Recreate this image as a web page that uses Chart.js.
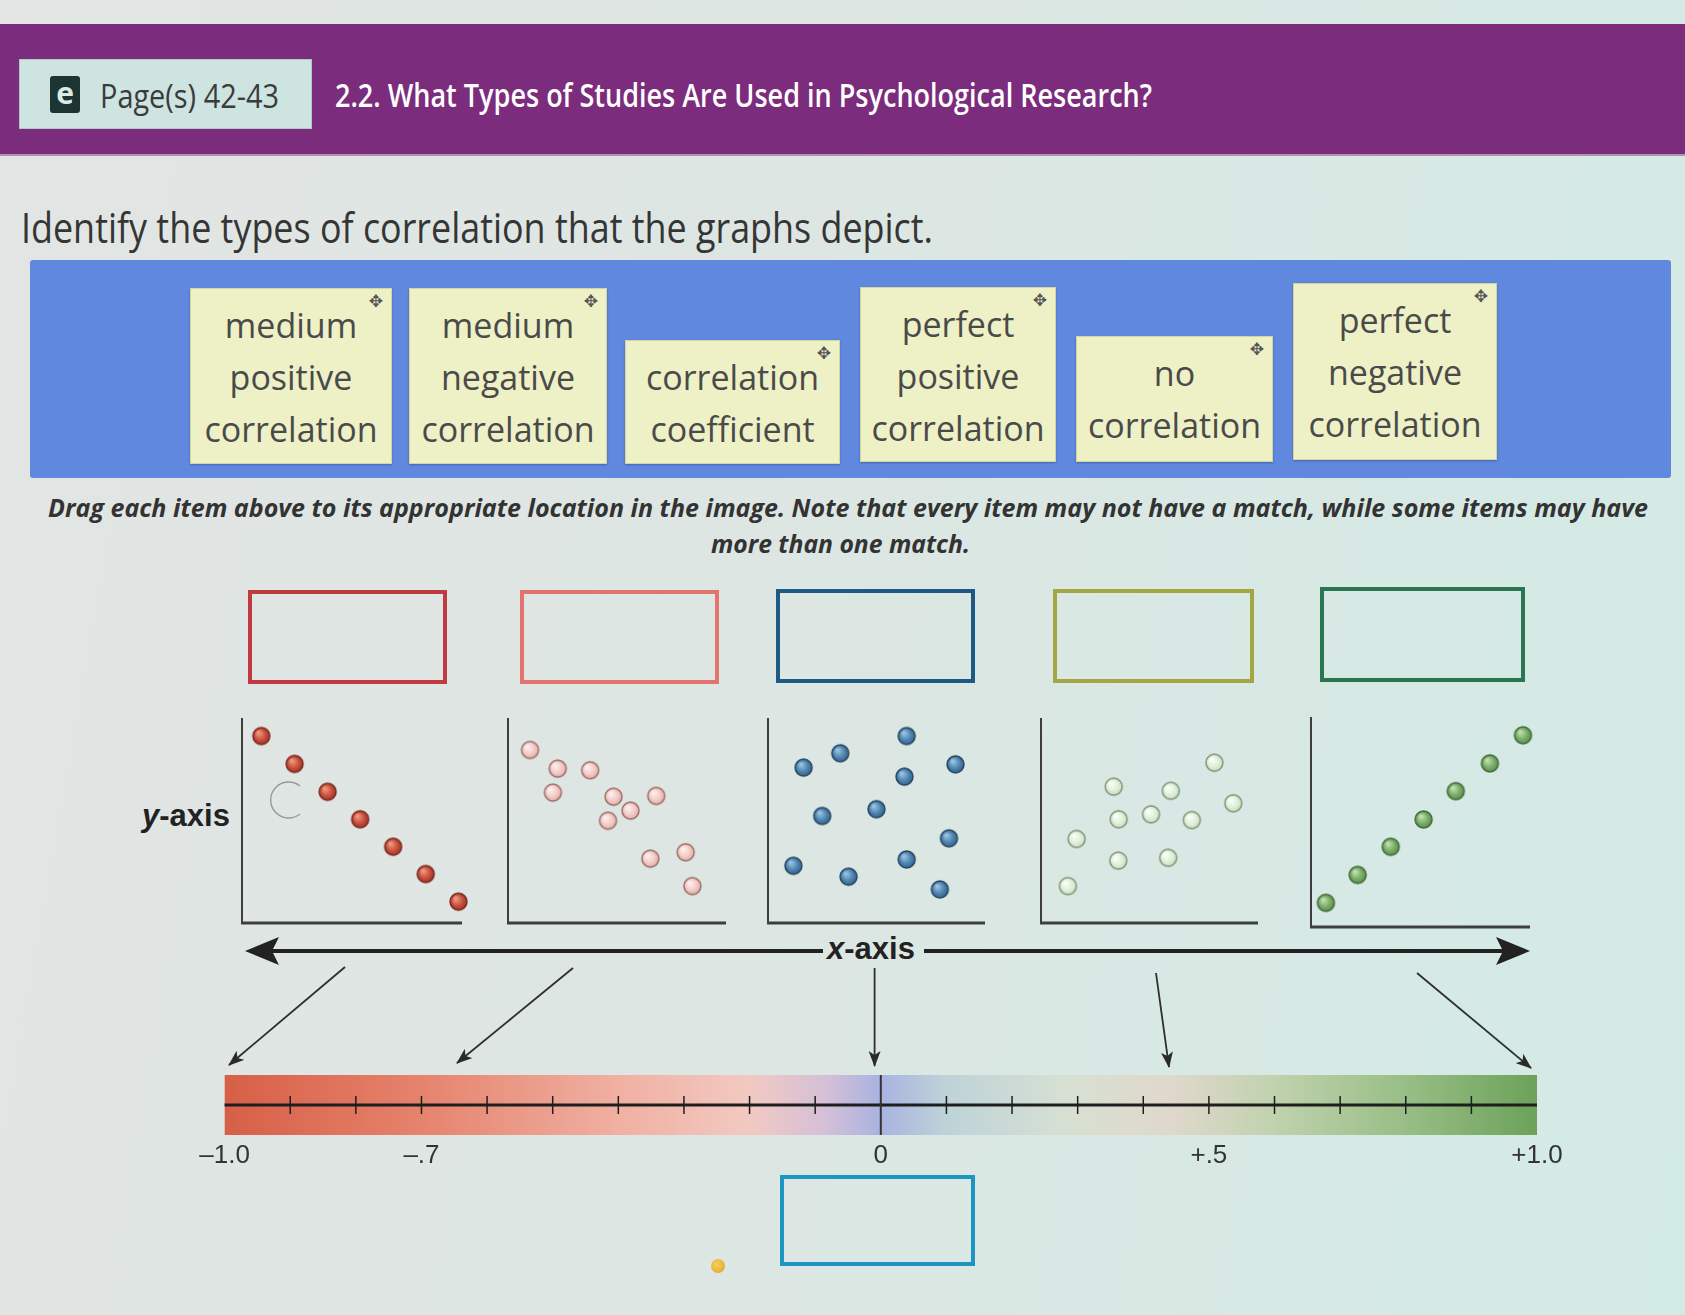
<!DOCTYPE html>
<html lang="en"><head><meta charset="utf-8"><title>Types of correlation</title>
<script src="https://cdn.jsdelivr.net/npm/chart.js@4.4.1/dist/chart.umd.min.js"></script>
<style>
*{box-sizing:border-box;}
html,body{margin:0;padding:0;}
body{width:1685px;height:1315px;position:relative;overflow:hidden;
  background:linear-gradient(100deg,#e2e5e3 0%,#dde6e3 45%,#d3ebe5 100%);
  font-family:"Open Sans",sans-serif;color:#3a3a3a;}
.a{position:absolute;}
.fit{white-space:nowrap;transform-origin:0 50%;}
#band{left:0;top:24px;width:1685px;height:130px;background:#7b2c7c;box-shadow:0 2px 0 #b491b4;}
#pagebtn{left:19px;top:59px;width:293px;height:70px;background:#cde4e1;border:1px solid #aec8c5;}
#eicon{left:50px;top:76px;width:30px;height:37px;background:#1d3432;border-radius:3px;color:#d9ece9;font:bold 30px "Open Sans";line-height:34px;text-align:center;}
#pagetxt{left:100px;top:75px;font-size:32px;line-height:42px;color:#3b3b3b;}
#title{left:335px;top:74px;font-size:32px;line-height:42px;color:#fff;font-weight:600;}
#identify{left:21px;top:201px;font-size:42px;line-height:52px;color:#353535;}
#blue{left:30px;top:260px;width:1641px;height:218px;background:#6088df;border-radius:3px;}
.card{position:absolute;background:#eef0c6;border:1px solid #d2d4a2;box-shadow:0 1px 2px rgba(0,0,0,.25);
  text-align:center;color:#4a4a4a;font-size:34px;line-height:52px;padding-top:10px;}
.card .mv{position:absolute;right:8px;top:2px;font-size:17px;line-height:20px;color:#555;font-family:"DejaVu Sans";}
.instr{font-size:25px;line-height:32px;font-weight:700;font-style:italic;color:#333;}
.box{position:absolute;border:4px solid;}
.axlab{font-family:"Liberation Sans",Arial,sans-serif;font-weight:700;color:#222;line-height:36px;}
canvas{position:absolute;}
</style></head>
<body>
<div id="band" class="a"></div>
<div id="pagebtn" class="a"></div>
<div id="eicon" class="a">e</div>
<div id="pagetxt" class="a fit" data-w="179">Page(s) 42-43</div>
<div id="title" class="a fit" data-w="817">2.2. What Types of Studies Are Used in Psychological Research?</div>
<div id="identify" class="a fit" data-w="912">Identify the types of correlation that the graphs depict.</div>

<div id="blue" class="a"></div>
<div class="card" style="left:190px;top:288px;width:202px;height:176px;"><span class="mv">✥</span>medium<br>positive<br>correlation</div>
<div class="card" style="left:409px;top:288px;width:198px;height:176px;"><span class="mv">✥</span>medium<br>negative<br>correlation</div>
<div class="card" style="left:625px;top:340px;width:215px;height:124px;"><span class="mv">✥</span>correlation<br>coefficient</div>
<div class="card" style="left:860px;top:287px;width:196px;height:175px;"><span class="mv">✥</span>perfect<br>positive<br>correlation</div>
<div class="card" style="left:1076px;top:336px;width:197px;height:126px;"><span class="mv">✥</span>no<br>correlation</div>
<div class="card" style="left:1293px;top:283px;width:204px;height:177px;"><span class="mv">✥</span>perfect<br>negative<br>correlation</div>

<div class="a fit instr" style="left:48px;top:491px;" data-w="1600">Drag each item above to its appropriate location in the image. Note that every item may not have a match, while some items may have</div>
<div class="a fit instr" style="left:711px;top:527px;" data-w="259">more than one match.</div>

<div class="box" style="left:248px;top:590px;width:199px;height:94px;border-color:#c13a40;"></div>
<div class="box" style="left:520px;top:590px;width:199px;height:94px;border-color:#e2736d;"></div>
<div class="box" style="left:776px;top:589px;width:199px;height:94px;border-color:#1d5a86;"></div>
<div class="box" style="left:1053px;top:589px;width:201px;height:94px;border-color:#a3a643;"></div>
<div class="box" style="left:1320px;top:587px;width:205px;height:95px;border-color:#2b7550;"></div>
<div class="box" style="left:780px;top:1175px;width:195px;height:91px;border-color:#1d95c3;"></div>
<div class="a" style="left:711px;top:1259px;width:14px;height:14px;border-radius:7px;background:radial-gradient(circle at 40% 40%,#f6d060,#e0a020);"></div>

<div class="a axlab" style="left:142px;top:798px;font-size:31px;"><i>y</i>-axis</div>
<div class="a axlab" style="left:827px;top:931px;font-size:31px;"><i>x</i>-axis</div>

<svg class="a" style="left:0;top:0;" width="1685" height="1315">
  <defs>
    <marker id="ah" markerUnits="userSpaceOnUse" markerWidth="16" markerHeight="12" refX="15" refY="6" orient="auto">
      <path d="M0,0 L16,6 L0,12 L4,6 Z" fill="#2a2a2a"/>
    </marker>
  </defs>
  <line x1="262" y1="951" x2="823" y2="951" stroke="#222" stroke-width="4"/>
  <line x1="924" y1="951" x2="1514" y2="951" stroke="#222" stroke-width="4"/>
  <path d="M245,951 L279,937 L272,951 L279,965 Z" fill="#222"/>
  <path d="M1530,951 L1496,937 L1503,951 L1496,965 Z" fill="#222"/>
  <g stroke="#2e2e2e" stroke-width="1.8" fill="none">
    <line x1="345" y1="967" x2="229" y2="1065" marker-end="url(#ah)"/>
    <line x1="573" y1="968" x2="457" y2="1063" marker-end="url(#ah)"/>
    <line x1="874.6" y1="968" x2="874.6" y2="1066" marker-end="url(#ah)"/>
    <line x1="1156" y1="973" x2="1169" y2="1067" marker-end="url(#ah)"/>
    <line x1="1417" y1="973" x2="1531" y2="1068" marker-end="url(#ah)"/>
  </g>
  <path d="M300,786 A18 18 0 1 0 300 814" stroke="#9a9a9a" stroke-width="1.4" fill="none"/>
</svg>

<canvas id="p1"></canvas><canvas id="p2"></canvas><canvas id="p3"></canvas><canvas id="p4"></canvas><canvas id="p5"></canvas>
<canvas id="bar"></canvas>

<script>
// ---- Data (percent of each plot's axis length) ----
const plot1X = [8.8, 23.9, 38.9, 53.7, 68.7, 83.5, 98.4];
const plot1Y = [91.2, 77.6, 64.0, 50.6, 37.2, 23.9, 10.4];
const plot2X = [10.1, 22.8, 37.7, 20.6, 48.4, 68.0, 56.2, 45.9, 65.3, 81.5, 84.6];
const plot2Y = [84.4, 75.3, 74.5, 63.6, 61.6, 62.0, 54.8, 49.9, 31.4, 34.5, 18.0];
const plot3X = [63.9, 33.3, 16.4, 86.4, 62.9, 25.0, 50.0, 83.4, 11.7, 37.1, 63.9, 79.2];
const plot3Y = [91.2, 82.8, 75.8, 77.4, 71.4, 52.2, 55.5, 41.3, 27.9, 22.6, 31.0, 16.4];
const plot4X = [79.9, 33.5, 59.8, 88.6, 35.8, 50.7, 69.5, 16.4, 35.6, 58.6, 12.4];
const plot4Y = [78.2, 66.5, 64.5, 58.4, 50.6, 53.0, 50.2, 41.0, 30.4, 31.8, 18.0];
const plot5X = [6.8, 21.3, 36.4, 51.4, 66.1, 81.7, 96.8];
const plot5Y = [11.5, 24.8, 38.2, 51.2, 64.7, 77.9, 91.3];

// correlation coefficient scale
const corrRange = [-1, 1];
const corrTickValues = [-1, -0.7, 0, 0.5, 1];
const corrTickLabels = ['–1.0', '–.7', '0', '+.5', '+1.0'];
const corrMinorTicks = [-0.9, -0.8, -0.7, -0.6, -0.5, -0.4, -0.3, -0.2, -0.1, 0.1, 0.2, 0.3, 0.4, 0.5, 0.6, 0.7, 0.8, 0.9];

// ---- Styles / layout (kept separate from data) ----
const gradStops = [[0,'#d75f47'],[0.14,'#e5806a'],[0.3,'#f0b0a2'],[0.4,'#f2c9c2'],[0.46,'#d3bfd8'],[0.5,'#a9b3e0'],
  [0.55,'#bed3d8'],[0.64,'#d6e0d2'],[0.72,'#e0d8cc'],[0.8,'#c0d2ae'],[0.9,'#98be86'],[1,'#6ca25a']];

function ball(light, base, edge, stroke, r){
  const c = document.createElement('canvas');
  const s = Math.ceil(2*r+4); c.width = s; c.height = s;
  const g = c.getContext('2d'); const cx = s/2, cy = s/2;
  const gr = g.createRadialGradient(cx - r*0.35, cy - r*0.4, r*0.1, cx, cy, r);
  gr.addColorStop(0, light); gr.addColorStop(0.6, base); gr.addColorStop(1, edge);
  g.beginPath(); g.arc(cx, cy, r, 0, Math.PI*2); g.fillStyle = gr; g.fill();
  g.lineWidth = 1.4; g.strokeStyle = stroke; g.stroke();
  return c;
}

const plots = [
  {id:'p1', xs:plot1X, ys:plot1Y, col:['#ee9a80','#c9513d','#9a3528','#7a281f'], left:242, top:718, w:220, h:205},
  {id:'p2', xs:plot2X, ys:plot2Y, col:['#fdf0ee','#f3cdc8','#e3aaa4','#9a6a66'], left:508, top:718, w:218, h:205},
  {id:'p3', xs:plot3X, ys:plot3Y, col:['#9cc3dd','#4f86b3','#34628a','#27445f'], left:768, top:718, w:217, h:205},
  {id:'p4', xs:plot4X, ys:plot4Y, col:['#fbfff8','#e1f0da','#c6dcbc','#7b9276'], left:1041, top:718, w:217, h:205},
  {id:'p5', xs:plot5X, ys:plot5Y, col:['#c2e0b0','#7bad6a','#5a8c4c','#3d6a38'], left:1311, top:717, w:219, h:210}
];

const lAxis = {
  id:'lAxis',
  afterDraw(chart){
    const {ctx, chartArea:a} = chart;
    ctx.save(); ctx.strokeStyle = '#3e3e3e';
    ctx.lineWidth = 2; ctx.beginPath(); ctx.moveTo(a.left, a.top); ctx.lineTo(a.left, a.bottom); ctx.stroke();
    ctx.lineWidth = 3; ctx.beginPath(); ctx.moveTo(a.left - 1, a.bottom); ctx.lineTo(a.right, a.bottom); ctx.stroke();
    ctx.restore();
  }
};

function drawAll(){
  document.querySelectorAll('[data-w]').forEach(el => {
    const w = parseFloat(el.dataset.w);
    const nat = el.getBoundingClientRect().width;
    el.style.transform = 'scaleX(' + (w/nat) + ')';
  });

  const pad = 14;
  plots.forEach(p => {
    const cv = document.getElementById(p.id);
    cv.width = p.w + 2*pad; cv.height = p.h + 2*pad;
    cv.style.left = (p.left - pad) + 'px'; cv.style.top = (p.top - pad) + 'px';
    const img = ball(p.col[0], p.col[1], p.col[2], p.col[3], 8.5);
    new Chart(cv, {
      type:'scatter',
      data:{datasets:[{data:p.xs.map((x,i)=>({x:x, y:p.ys[i]})), pointStyle:img, pointRadius:8.5, clip:false}]},
      options:{responsive:false, animation:false, events:[], layout:{padding:pad},
        plugins:{legend:{display:false}, tooltip:{enabled:false}},
        scales:{x:{type:'linear', min:0, max:100, display:false}, y:{type:'linear', min:0, max:100, display:false}}},
      plugins:[lAxis]
    });
  });

  const bc = document.getElementById('bar');
  bc.width = 1400; bc.height = 130; bc.style.left = '180px'; bc.style.top = '1060px';
  const barDecor = {
    id:'barDecor',
    afterDatasetsDraw(chart){
      const {ctx, chartArea:a, scales:{x}} = chart;
      const cy = (a.top + a.bottom)/2;
      ctx.save(); ctx.strokeStyle = '#1e1e1e';
      ctx.lineWidth = 3; ctx.beginPath(); ctx.moveTo(a.left, cy); ctx.lineTo(a.right, cy); ctx.stroke();
      ctx.lineWidth = 1.5;
      corrMinorTicks.forEach(v => { const px = x.getPixelForValue(v); ctx.beginPath(); ctx.moveTo(px, cy-9); ctx.lineTo(px, cy+9); ctx.stroke(); });
      const z = x.getPixelForValue(0); ctx.lineWidth = 2; ctx.strokeStyle = '#333';
      ctx.beginPath(); ctx.moveTo(z, a.top); ctx.lineTo(z, a.bottom); ctx.stroke();
      ctx.restore();
    }
  };
  new Chart(bc, {
    type:'bar',
    data:{labels:['r'], datasets:[{data:[corrRange], borderWidth:0, barPercentage:1, categoryPercentage:1,
      backgroundColor:(c) => {
        const ch = c.chart; if(!ch.chartArea) return '#ddd';
        const x = ch.scales.x;
        const g = ch.ctx.createLinearGradient(x.getPixelForValue(corrRange[0]), 0, x.getPixelForValue(corrRange[1]), 0);
        gradStops.forEach(s => g.addColorStop(s[0], s[1])); return g;
      }}]},
    options:{indexAxis:'y', responsive:false, animation:false, events:[],
      layout:{padding:{left:44.6, right:43, top:15, bottom:0}},
      plugins:{legend:{display:false}, tooltip:{enabled:false}},
      scales:{
        x:{type:'linear', min:corrRange[0], max:corrRange[1], grid:{display:false, drawTicks:false}, border:{display:false},
          afterBuildTicks:(s) => { s.ticks = corrTickValues.map(v => ({value:v})); },
          afterFit:(s) => { s.height = 55; },
          ticks:{autoSkip:false, maxRotation:0, minRotation:0, padding:5, color:'#333',
            font:{family:'Liberation Sans', size:26}, callback:(v, i) => corrTickLabels[i]}},
        y:{display:false}
      }},
    plugins:[barDecor]
  });
}
if (document.fonts && document.fonts.ready) { document.fonts.ready.then(drawAll); } else { drawAll(); }
</script>
</body></html>
